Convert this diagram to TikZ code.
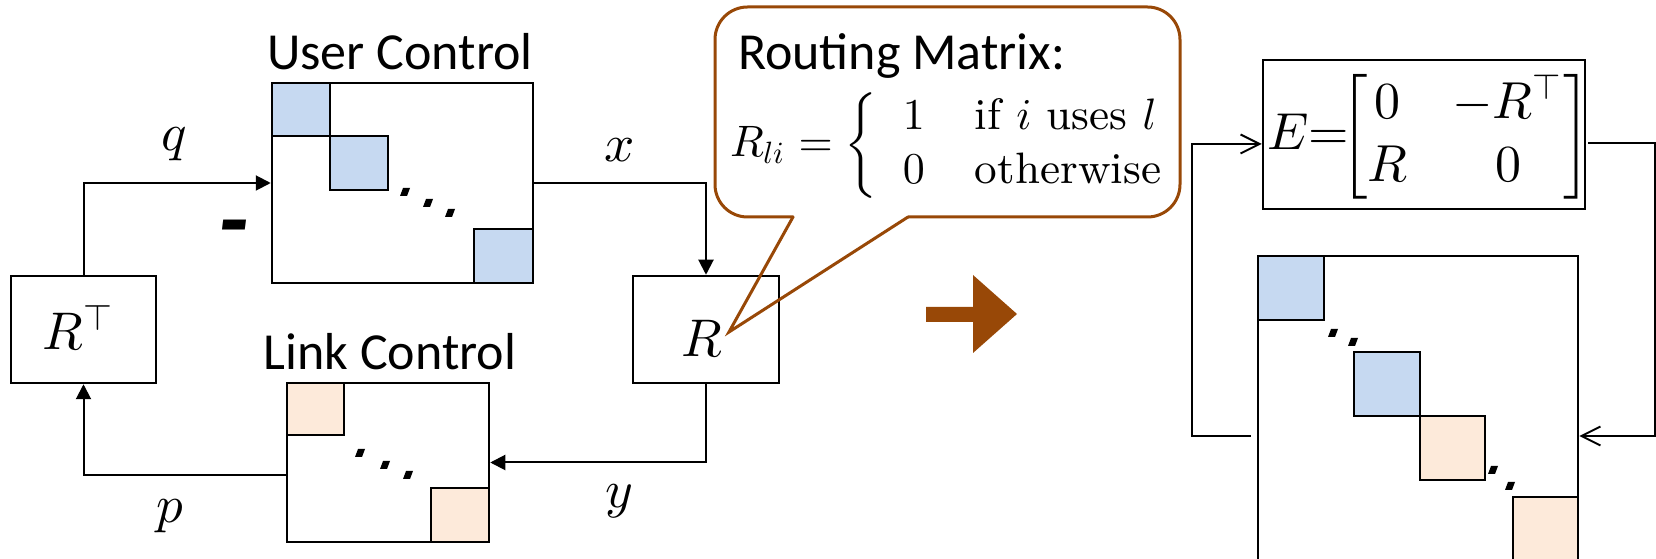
\documentclass[tikz,border=0pt]{standalone}
\usepackage{amsmath}
\usepackage{fontspec}
\newfontfamily\calfont{Carlito}
\usetikzlibrary{arrows.meta,fit}

% scalable Computer Modern math fonts at any size
\DeclareFontShape{OML}{cmm}{m}{it}{<->cmmi10}{}
\DeclareFontShape{OMS}{cmsy}{m}{n}{<->cmsy10}{}
\DeclareFontShape{OMX}{cmex}{m}{n}{<->cmex10}{}
\DeclareFontShape{OT1}{cmr}{m}{n}{<->cmr10}{}

\definecolor{userblue}{HTML}{C6D9F1}
\definecolor{linkorange}{HTML}{FDEADA}
\definecolor{calloutbrown}{HTML}{984807}

\begin{document}
\begin{tikzpicture}[x=0.2pt,y=-0.2pt,
  box/.style={draw, line width=0.5pt, inner sep=0pt},
  bluesq/.style={box, fill=userblue},
  orangesq/.style={box, fill=linkorange},
  conn/.style={line width=0.4pt, -{Triangle[length=3pt,width=3pt]}},
  openconn/.style={line width=0.4pt, -{Straight Barb[length=3.8pt,width=3.8pt]}},
  heading/.style={font=\calfont\fontsize{10.4}{12.5}\selectfont, inner sep=0pt, anchor=base},
  mlab/.style={font=\fontsize{10.6}{12.7}\selectfont, inner sep=0pt},
  callout/.style={draw=calloutbrown, line width=0.6pt},
  ddot/.pic={\fill (-2,-4) -- (5,-4) -- (2,4) -- (-5,4) -- cycle;}
]
\useasboundingbox (0,0) rectangle (1656,559);
\clip (0,0) rectangle (1656,559);

% ---------- feedback loop: user control ----------
\node[heading] (usertitle) at (400,70) {User Control};
\node[box, fit={(272,83)(533,283)}] (user) {};
\node[bluesq, fit={(272,83)(330,136)}] (u1) {};
\node[bluesq, fit={(330,136)(388,190)}] (u2) {};
\node[bluesq, fit={(474,229)(533,283)}] (u3) {};
\pic at (405,192) {ddot};
\pic at (428,203) {ddot};
\pic at (450,213) {ddot};

% ---------- link control ----------
\node[heading] (linktitle) at (390,370) {Link Control};
\node[box, fit={(287,383)(489,542)}] (link) {};
\node[orangesq, fit={(287,383)(344,435)}] (l1) {};
\node[orangesq, fit={(431,488)(489,542)}] (l2) {};
\pic at (360,453) {ddot};
\pic at (385,465) {ddot};
\pic at (408,475) {ddot};

% ---------- routing blocks ----------
\node[box, fit={(11,276)(156,383)}] (RT) {};
\node[mlab] (RTlab) at (79,327) {$R^{\top}$};
\node[box, fit={(633,276)(779,383)}] (R) {};
\node[mlab] (Rlab) at (702,338) {$R$};

% ---------- signals ----------
\coordinate (plevel) at (0,475);
\draw[conn] (RT.north) |- (user.west);
\draw[conn] (user.east) -| (R.north);
\draw[conn] (R.south) |- (link.east);
\draw[conn] (link.west |- plevel) -| (RT.south);

\node[mlab] (qlab) at (174,144) {$q$};
\node[mlab] (xlab) at (620,150) {$x$};
\node[mlab] (ylab) at (619,501) {$y$};
\node[mlab] (plab) at (170,516) {$p$};
\node[font=\calfont\bfseries\itshape\fontsize{20}{20}\selectfont, inner sep=0pt, anchor=base] (minus) at (234,254) {-};

% ---------- callout with the routing matrix ----------
\draw[callout, line cap=round] (793,217) -- (729,332) -- (908,217);
\draw[callout, line cap=round, rounded corners=6.5pt] (908,217) -- (1180,217) -- (1180,7) -- (715,7) -- (715,217) -- (793,217);
\node[heading, anchor=base west] (rmtitle) at (737,70) {Routing Matrix:};
\node[anchor=west, inner sep=0pt, font=\fontsize{8.8}{10.8}\selectfont] (rdef) at (729,146)
  {$R_{li}=\left\{\begin{array}{ll} 1 & \text{if } i \text{ uses } l\\ 0 & \text{otherwise}\end{array}\right.$};

% ---------- transition arrow ----------
\fill[calloutbrown] (926,307) -- (973,307) -- (973,275) -- (1017,314) -- (973,353) -- (973,322) -- (926,322) -- cycle;

% ---------- combined system ----------
\node[box, fit={(1263,60)(1585,209)}] (ebox) {};
\node[anchor=west, inner sep=0pt, font=\fontsize{10.4}{12.6}\selectfont] (eform) at (1266,137)
  {\arraycolsep=4.5pt $E{=}\!\!\begin{bmatrix}0 & -R^{\top}\\ R & 0\end{bmatrix}$};

\node[box, fit={(1258,256)(1578,600)}] (big) {};
\node[bluesq, fit={(1258,256)(1324,320)}] (b1) {};
\node[bluesq, fit={(1354,352)(1420,416)}] (b2) {};
\node[orangesq, fit={(1420,416)(1485,480)}] (o1) {};
\node[orangesq, fit={(1513,497)(1578,562)}] (o2) {};
\pic at (1333,333) {ddot};
\pic at (1353,342) {ddot};
\pic at (1493,470) {ddot};
\pic at (1510,486) {ddot};

\coordinate (lj) at (1192,436);
\coordinate (el) at (1192,144);
\coordinate (er) at (1655,143);
\coordinate (rj) at (1655,436);
\draw[openconn, shorten <=1.2pt] (big.west |- lj) -- (lj) -- (el) -- (ebox.west |- el);
\draw[openconn, shorten <=0.4pt] (ebox.east |- er) -- (er) -- (rj) -- (big.east |- rj);
\end{tikzpicture}
\end{document}
